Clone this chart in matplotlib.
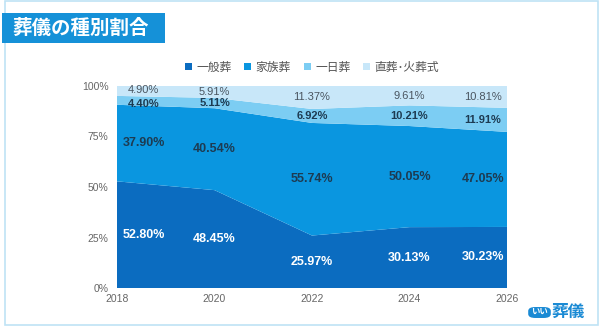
import numpy as np
import matplotlib.pyplot as plt
from matplotlib.patches import Rectangle, FancyBboxPatch

plt.rcParams['font.family'] = ['Liberation Sans', 'Noto Sans CJK JP', 'DejaVu Sans']

years = [2018, 2020, 2022, 2024, 2026]
series_names = ['一般葬', '家族葬', '一日葬', '直葬･火葬式']
ippan = [52.80, 48.45, 25.97, 30.13, 30.23]
kazoku = [37.90, 40.54, 55.74, 50.05, 47.05]
ichinichi = [4.40, 5.11, 6.92, 10.21, 11.91]
chokuso = [4.90, 5.91, 11.37, 9.61, 10.81]
yticks = [0, 25, 50, 75, 100]

colors = ['#0b6cc0', '#0a96e0', '#7ccdf3', '#c8e7f9']
text_colors = ['white', '#1d3b52', '#1d3b52', '#4a5560']
weights = ['bold', 'bold', 'bold', 'normal']
sizes = [9, 9, 8, 8]
cjk = ['Noto Sans CJK JP', 'DejaVu Sans']

fig = plt.figure(figsize=(6, 3.28), dpi=100)
fig.patch.set_facecolor('white')

# frame
fig.add_artist(Rectangle((5 / 600, 3 / 328), 593 / 600, 324 / 328, transform=fig.transFigure,
                         fill=False, edgecolor='#bfe3f5', linewidth=1.2))

# title banner
fig.add_artist(Rectangle((2 / 600, 1 - 43 / 328), 163 / 600, 30 / 328, transform=fig.transFigure,
                         facecolor='#1591d8', edgecolor='none'))
fig.text(12 / 600, 1 - 28 / 328, '葬儀の種別割合', color='white', fontsize=14,
         fontweight='bold', va='center', ha='left', family=cjk)

ax = fig.add_axes([117 / 600, 1 - 288 / 328, 390 / 600, 202 / 328])
data = [ippan, kazoku, ichinichi, chokuso]
ax.stackplot(years, data, colors=colors, labels=series_names, linewidth=0)

ax.set_xlim(2018, 2026)
ax.set_ylim(0, 100)
ax.set_xticks(years)
ax.set_yticks(yticks)
ax.set_yticklabels([f'{v}%' for v in yticks])
ax.tick_params(length=0, labelsize=7.5, colors='#666666')
ax.tick_params(axis='y', pad=6)
ax.tick_params(axis='x', pad=4)
for s in ax.spines.values():
    s.set_visible(False)

# value labels (first/last column pulled inside the plot area)
label_x = [2018.55, 2020, 2022, 2024, 2025.5]
nudge = {(2, 0): -2.0, (3, 0): 0.6}  # small vertical nudges so labels don't collide
bottoms = np.zeros(len(years))
for k, vals in enumerate(data):
    vals = np.array(vals)
    mids = bottoms + vals / 2
    for i in range(len(years)):
        ax.text(label_x[i], mids[i] + nudge.get((k, i), 0), f'{vals[i]:.2f}%',
                ha='center', va='center', fontsize=sizes[k], color=text_colors[k],
                fontweight=weights[k])
    bottoms = bottoms + vals

leg = ax.legend(loc='center', bbox_to_anchor=(0.5, 1 + 19 / 202), ncol=4, frameon=False,
                prop={'family': cjk, 'size': 8.5}, handlelength=0.6, handleheight=0.6,
                handletextpad=0.35, columnspacing=1.1, labelcolor='#555555')

# logo
fig.add_artist(FancyBboxPatch((530 / 600, 1 - 317 / 328), 19 / 600, 9 / 328,
                              boxstyle='round,pad=0.003,rounding_size=0.012',
                              transform=fig.transFigure, facecolor='#1a8ad4', edgecolor='none'))
fig.text(539.5 / 600, 1 - 312.5 / 328, 'いい', color='white', fontsize=6, fontweight='bold',
         ha='center', va='center', family=cjk)
fig.text(551 / 600, 1 - 312 / 328, '葬儀', color='#1a8ad4', fontsize=12, fontweight='bold',
         ha='left', va='center', family=cjk)

fig.savefig('out.png', dpi=100)
